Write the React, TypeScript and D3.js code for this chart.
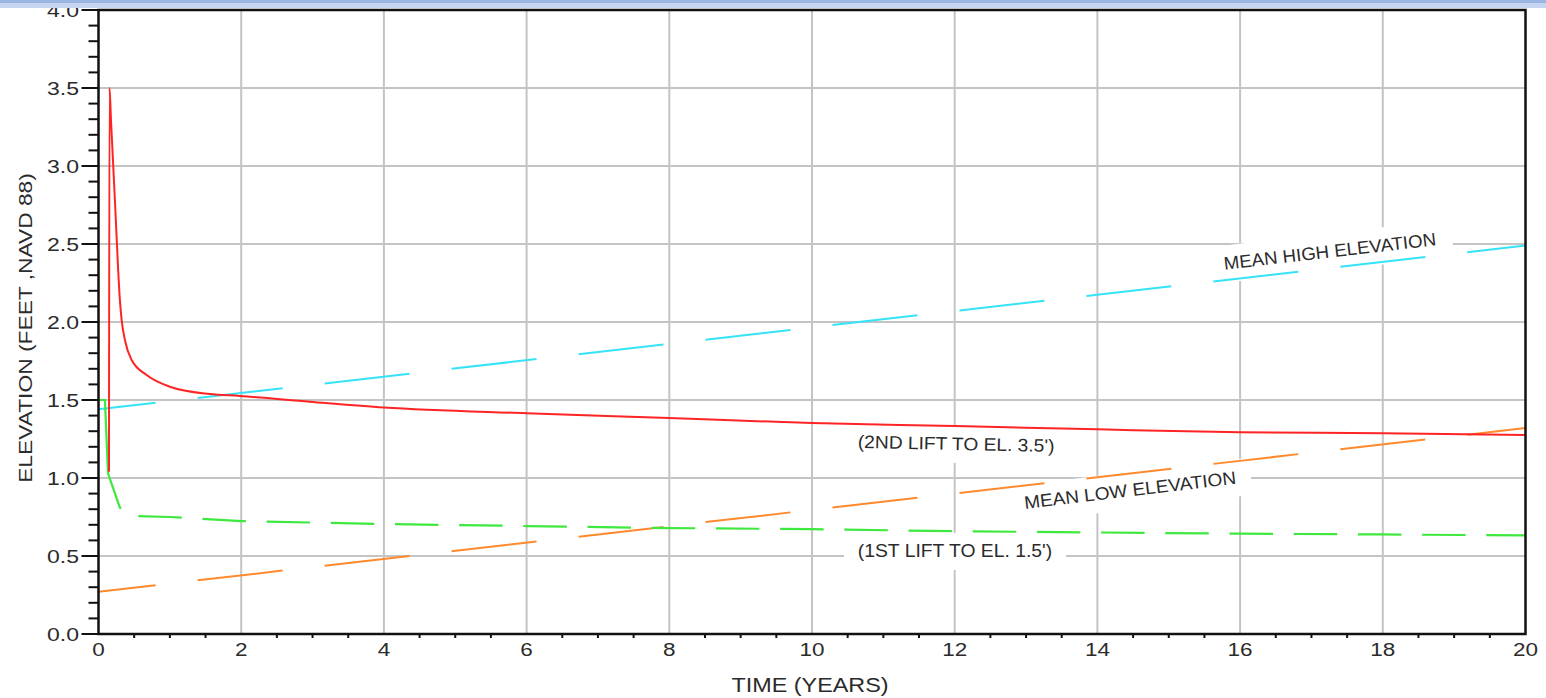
import React from "react";
import * as d3 from "d3";

// ---------- data ----------
const xTickValues = [0, 2, 4, 6, 8, 10, 12, 14, 16, 18, 20];
const yTickValues = [0, 0.5, 1, 1.5, 2, 2.5, 3, 3.5, 4];
const yTickLabels = ["0.0", "0.5", "1.0", "1.5", "2.0", "2.5", "3.0", "3.5", "4.0"];

// 2nd lift to el. 3.5'
const redTime = [0.147, 0.154, 0.175, 0.23, 0.3, 0.325, 0.37, 0.465, 0.675, 1.0, 1.56, 1.98, 2.96, 4, 6, 8, 10, 12, 14, 16, 18, 20];
const redElev = [1.04, 3.5, 3.295, 2.78, 2.14, 2.01, 1.885, 1.756, 1.66, 1.585, 1.538, 1.526, 1.489, 1.452, 1.415, 1.385, 1.352, 1.333, 1.312, 1.293, 1.287, 1.276];

// 1st lift to el. 1.5'
const greenTime = [0, 0.09, 0.133, 0.3, 0.54, 1, 2, 4, 6, 8, 10, 12, 14, 16, 18, 20];
const greenElev = [1.5, 1.5, 1.03, 0.81, 0.756, 0.75, 0.724, 0.705, 0.692, 0.679, 0.672, 0.659, 0.651, 0.643, 0.638, 0.632];

// Mean high elevation
const highTime = [0, 20];
const highElev = [1.44, 2.49];

// Mean low elevation
const lowTime = [0, 20];
const lowElev = [0.271, 1.32];

// ---------- layout ----------
const W = 1546;
const H = 698;
const X0 = 98.5;
const X1 = 1525.5;
const Y0 = 634;
const Y1 = 10;
const FONT = "'Liberation Sans', Arial, sans-serif";
const TXT = "#2b2b2b";

const x = d3.scaleLinear().domain([0, 20]).range([X0, X1]);
const y = d3.scaleLinear().domain([0, 4]).range([Y0, Y1]);

type Pt = [number, number];
const zip = (a: number[], b: number[]): Pt[] => a.map((t, i) => [t, b[i]]);

const lineGen = (curve: d3.CurveFactory) =>
  d3
    .line<Pt>()
    .x((d) => x(d[0]))
    .y((d) => y(d[1]))
    .curve(curve);

function SText(props: {
  x: number;
  y: number;
  sx: number;
  size: number;
  anchor?: string;
  rotate?: number;
  children: React.ReactNode;
}) {
  const { x: tx, y: ty, sx, size, anchor = "middle", rotate = 0, children } = props;
  return (
    <text
      transform={`translate(${tx},${ty}) rotate(${rotate}) scale(${sx},1)`}
      textAnchor={anchor}
      fontSize={size}
      fontFamily={FONT}
      fill={TXT}
    >
      {children}
    </text>
  );
}

function Label(props: { cx: number; cy: number; w: number; rotate: number; sx: number; text: string }) {
  const { cx, cy, rotate, sx, text } = props;
  return (
    <g transform={`translate(${cx},${cy}) rotate(${rotate})`}>
      <SText x={0} y={0} sx={sx} size={18}>
        {text}
      </SText>
    </g>
  );
}

function LabelBox(props: { cx: number; cy: number; w: number; rotate: number }) {
  const { cx, cy, w, rotate } = props;
  return (
    <g transform={`translate(${cx},${cy}) rotate(${rotate})`}>
      <rect x={-w / 2 - 13} y={-24} width={w + 26} height={37} fill="#ffffff" />
    </g>
  );
}

export default function App() {
  const minorX = d3.range(0, 20.001, 0.5).filter((t) => Math.abs(t / 2 - Math.round(t / 2)) > 1e-6);
  const minorY = d3.range(0, 4.001, 0.1);

  const redPath = lineGen(d3.curveMonotoneX)(zip(redTime, redElev)) || "";
  const greenPath = lineGen(d3.curveLinear)(zip(greenTime, greenElev)) || "";
  const highPath = lineGen(d3.curveLinear)(zip(highTime, highElev)) || "";
  const lowPath = lineGen(d3.curveLinear)(zip(lowTime, lowElev)) || "";

  const greenDash = "117.5 19 " + Array(40).fill("43.5 20.7").join(" ");

  const labels = [
    { cx: 1330.5, cy: 257.5, w: 220, rotate: -6.6, sx: 1.04, text: "MEAN HIGH ELEVATION" },
    { cx: 1130.8, cy: 496.3, w: 217, rotate: -6.8, sx: 1.06, text: "MEAN LOW ELEVATION" },
    { cx: 956, cy: 450, w: 202, rotate: 1.2, sx: 1.066, text: "(2ND LIFT TO EL. 3.5')" },
    { cx: 955, cy: 557, w: 196, rotate: 0, sx: 1.074, text: "(1ST LIFT TO EL. 1.5')" },
  ];

  return (
    <svg
      width={W}
      height={H}
      style={{ position: "absolute", left: 0, top: 0, background: "#ffffff" }}
    >
      <rect x={0} y={0} width={W} height={H} fill="#ffffff" />

      {/* grid */}
      {xTickValues.slice(1, -1).map((t) => (
        <line key={"gx" + t} x1={x(t)} x2={x(t)} y1={Y1} y2={Y0} stroke="#c4c4c4" strokeWidth={2} />
      ))}
      {yTickValues.slice(1, -1).map((v) => (
        <line key={"gy" + v} x1={X0} x2={X1} y1={y(v)} y2={y(v)} stroke="#c4c4c4" strokeWidth={2} />
      ))}

      {/* label boxes mask the grid */}
      {labels.map((l) => (
        <LabelBox key={"b" + l.text} cx={l.cx} cy={l.cy} w={l.w} rotate={l.rotate} />
      ))}

      {/* data */}
      <path d={highPath} fill="none" stroke="#35e3f7" strokeWidth={2} strokeDasharray="85.5 42.3" strokeDashoffset={28} />
      <path d={lowPath} fill="none" stroke="#ff8a2e" strokeWidth={2} strokeDasharray="85.5 42.3" strokeDashoffset={28} />
      <path d={greenPath} fill="none" stroke="#3ee83e" strokeWidth={2.2} strokeDasharray={greenDash} />
      <path d={redPath} fill="none" stroke="#ff2424" strokeWidth={2} />

      {/* labels */}
      {labels.map((l) => (
        <Label key={"l" + l.text} {...l} />
      ))}

      {/* frame */}
      <rect x={X0} y={Y1} width={X1 - X0} height={Y0 - Y1} fill="none" stroke="#111" strokeWidth={2.5} />

      {/* y ticks */}
      {minorY.map((v, i) => {
        const major = i % 5 === 0;
        return (
          <line
            key={"ty" + i}
            x1={major ? X0 - 17 : X0 - 10}
            x2={X0}
            y1={y(v)}
            y2={y(v)}
            stroke="#111"
            strokeWidth={2}
          />
        );
      })}
      {yTickValues.map((v, i) => (
        <SText key={"ly" + v} x={79} y={y(v) + 6.5} sx={1.28} size={18} anchor="end">
          {yTickLabels[i]}
        </SText>
      ))}

      {/* x ticks */}
      {minorX.map((t) => (
        <line key={"tx" + t} x1={x(t)} x2={x(t)} y1={Y0} y2={Y0 + 4} stroke="#111" strokeWidth={2} />
      ))}
      {xTickValues.map((t) => (
        <SText key={"lx" + t} x={x(t)} y={656} sx={1.25} size={18}>
          {String(t)}
        </SText>
      ))}

      {/* axis titles */}
      <SText x={810} y={692} sx={1.17} size={20}>
        TIME (YEARS)
      </SText>
      <g transform={`translate(32,328) rotate(-90)`}>
        <SText x={0} y={0} sx={1.2} size={19}>
          ELEVATION (FEET ,NAVD 88)
        </SText>
      </g>

      {/* top band */}
      <rect x={0} y={0} width={W} height={8} fill="#c6d6f0" />
      <rect x={0} y={0} width={W} height={3} fill="#9db5e3" />
    </svg>
  );
}
